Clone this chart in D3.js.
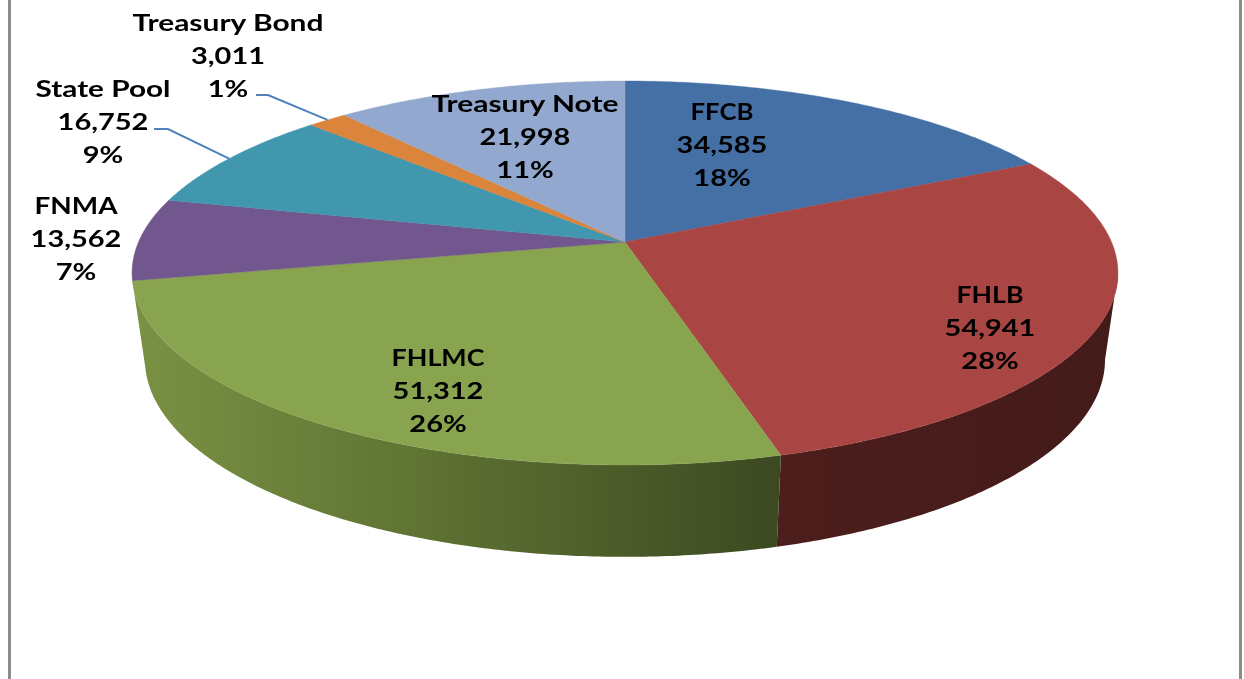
<!DOCTYPE html>
<html><head><meta charset="utf-8">
<script src="https://cdnjs.cloudflare.com/ajax/libs/d3/7.8.5/d3.min.js"></script>
<style>html,body{margin:0;padding:0;background:#fff;overflow:hidden}svg{display:block}</style>
</head><body><svg id="c" width="1244" height="679"></svg>
<script>
const categories = ["FFCB","FHLB","FHLMC","FNMA","State Pool","Treasury Bond","Treasury Note"];
const values = [34585,54941,51312,13562,16752,3011,21998];
const percentLabels = ["18%","28%","26%","7%","9%","1%","11%"];
const colors = ["#4470A6","#A94543","#88A44E","#71578D","#4097AE","#DA843C","#92A8CE"];
// label anchor: centre x, first baseline y, drawn width of the name line
const labelX = [722,990,438,76,103,228,525];
const labelY = [120,303,366,214,97,31,112];
const nameWidths = [63,67,93,83,135,191,187];
const leaderStart = {"State Pool":[154,129,168,129],"Treasury Bond":[256,95,268,95]};
const sideStops = {
  "FHLB":[[778,"#4c1e1c"],[1118,"#431b19"]],
  "FHLMC":[[132,"#7a9244"],[420,"#5f7333"],[778,"#3c4921"]]
};
const W=1244,H=679,K=0.1615,SX=1.26;
const top_ ={cx:625,cy:242,R:486.5,b:187};
const base={cx:625,cy:328,R:473.7,b:191.9};
const project=(disc,a)=>{
  const u=Math.sin(a),v=-Math.cos(a),D=1-K*v;
  return [disc.cx+disc.R*u/D, disc.cy+disc.b*v/D];
};
const arcPts=(disc,a0,a1)=>{
  const n=Math.max(2,Math.ceil((a1-a0)/0.01));
  return d3.range(n+1).map(i=>project(disc,a0+(a1-a0)*i/n));
};
// part of the rim that faces the viewer: between the two silhouette tangents
const rimStart=Math.acos(-K), rimEnd=2*Math.PI-rimStart;
const line=d3.line();
const svg=d3.select("#c");
const defs=svg.append("defs");
const blur=defs.append("filter").attr("id","soft").attr("x","-5%").attr("y","-20%").attr("width","110%").attr("height","140%");
blur.append("feGaussianBlur").attr("stdDeviation",0.45);
const slices=d3.pie().sort(null).startAngle(0).endAngle(2*Math.PI)(values)
  .map((d,i)=>({...d,name:categories[i],i}));

// frame
svg.selectAll("rect.frame").data([8,1239]).join("rect").attr("class","frame")
  .attr("x",d=>d).attr("y",0).attr("width",3).attr("height",H).attr("fill","#8c8c8c");

// sides
Object.entries(sideStops).forEach(([name,stops])=>{
  const g=defs.append("linearGradient").attr("id","side-"+name)
    .attr("gradientUnits","userSpaceOnUse").attr("x1",stops[0][0]).attr("x2",stops[stops.length-1][0]).attr("y1",0).attr("y2",0);
  const sc=d3.scaleLinear().domain([stops[0][0],stops[stops.length-1][0]]).range([0,1]);
  stops.forEach(s=>g.append("stop").attr("offset",sc(s[0])).attr("stop-color",s[1]));
});
svg.append("g").selectAll("path").data(slices.filter(d=>sideStops[d.name])).join("path")
  .attr("d",d=>{
    const a0=Math.max(d.startAngle,rimStart),a1=Math.min(d.endAngle,rimEnd);
    return line([...arcPts(top_,a0,a1),...arcPts(base,a0,a1).reverse()])+"Z";
  })
  .attr("fill",d=>`url(#side-${d.name})`);

// top face
svg.append("g").selectAll("path").data(slices).join("path")
  .attr("d",d=>line([[top_.cx,top_.cy],...arcPts(top_,d.startAngle,d.endAngle)])+"Z")
  .attr("fill",d=>colors[d.i]).attr("stroke",d=>colors[d.i]).attr("stroke-width",0.4);

// leaders
svg.append("g").selectAll("path").data(slices.filter(d=>leaderStart[d.name])).join("path")
  .attr("d",d=>{const s=leaderStart[d.name];
    return line([[s[0],s[1]],[s[2],s[3]],project(top_,(d.startAngle+d.endAngle)/2)]);})
  .attr("fill","none").attr("stroke","#4F81BD").attr("stroke-width",2);

// labels
const fmt=d3.format(",");
const lab=svg.append("g").attr("filter","url(#soft)").selectAll("text").data(slices).join("text")
  .attr("transform",d=>`translate(${labelX[d.i]},${labelY[d.i]}) scale(${SX},1)`)
  .attr("text-anchor","middle").attr("font-family","Lato, sans-serif").attr("font-weight",700)
  .attr("font-size",23).attr("fill","#000");
lab.each(function(d){
  const t=d3.select(this);
  [d.name,fmt(d.value),percentLabels[d.i]].forEach((s,j)=>{
    const sp=t.append("tspan").attr("x",0).attr("y",j*33).text(s);
    if(j===0) sp.attr("textLength",nameWidths[d.i]/SX).attr("lengthAdjust","spacingAndGlyphs");
  });
});
</script></body></html>
